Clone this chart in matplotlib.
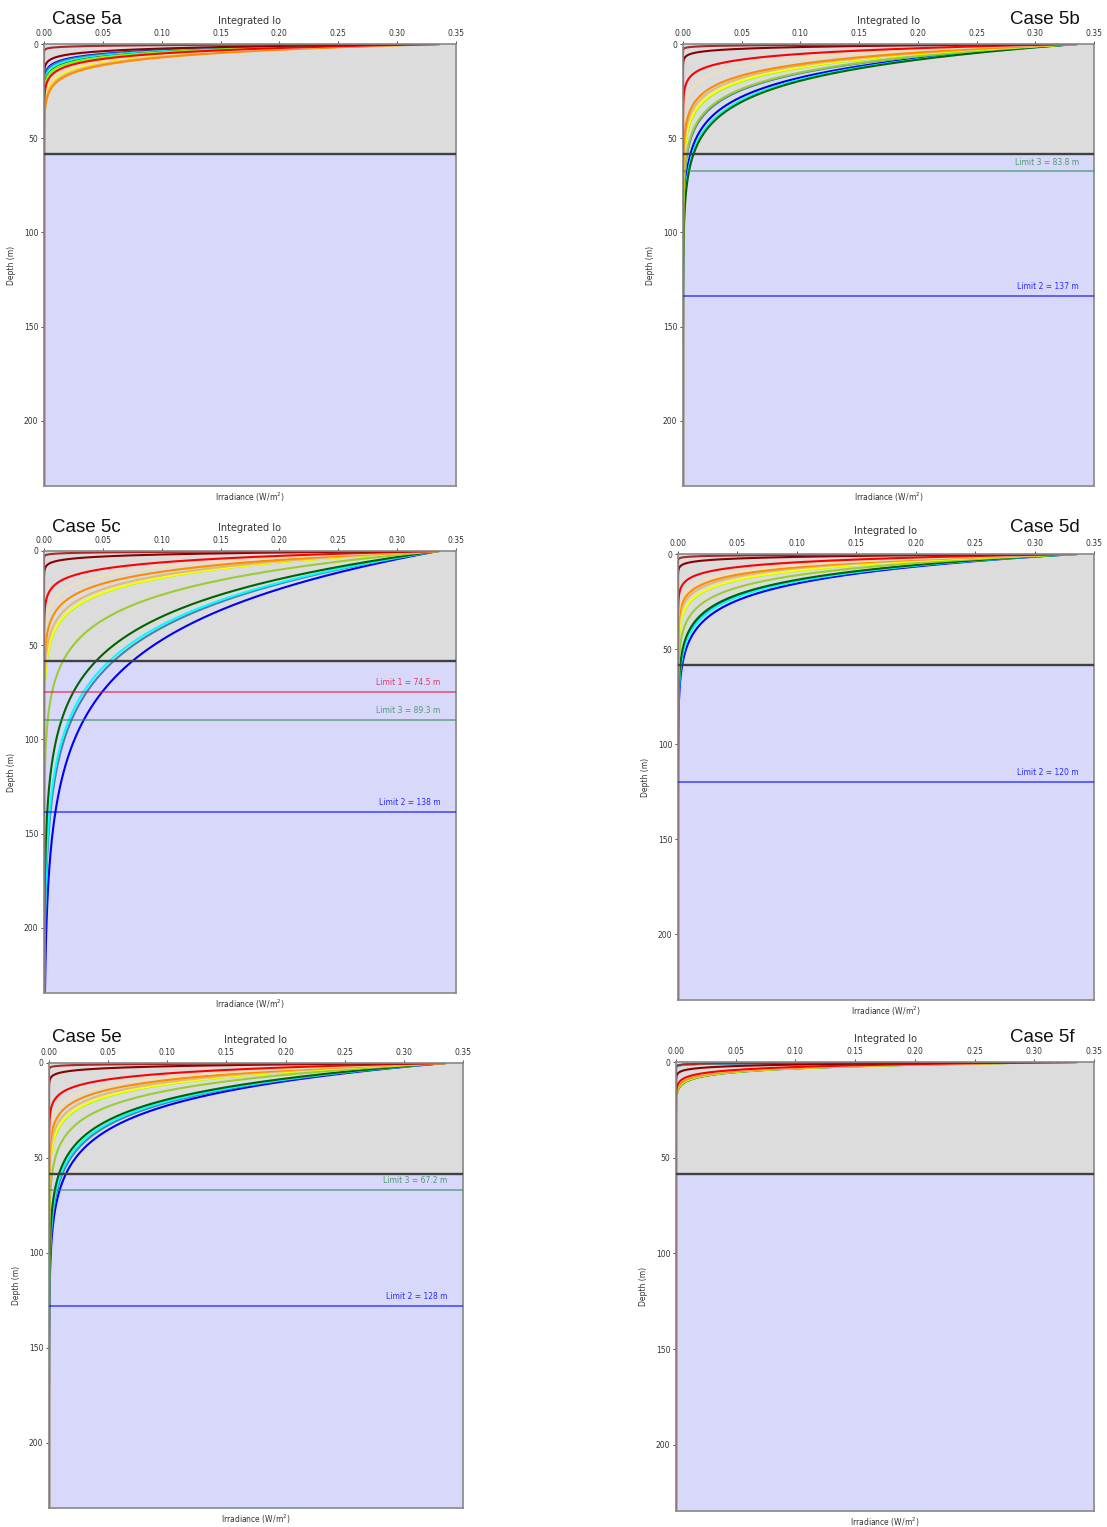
import matplotlib
matplotlib.use("Agg")
import matplotlib.pyplot as plt
import numpy as np

# ── Data ─────────────────────────────────────────────────────────────────────
DEPTH_MAX = 234.5          # bottom of the depth axis (m)
MIXED_DEPTH = 58.3         # grey / lavender boundary (m)
SURFACE_IO = 0.335         # integrated Io at the surface (W/m2)

curve_colors = ["brown", "darkred", "red", "wheat", "darkorange", "burlywood",
                "yellow", "lawngreen", "yellowgreen", "darkgreen", "cyan",
                "steelblue", "blue"]

# attenuation coefficient (1/m) of each coloured profile, per case
kd_5a = [2.0, 0.50, 0.24, 0.22, 0.17, 0.18, 0.19, 0.27, 0.27, 0.28, 0.31, 0.34, 0.36]
kd_5b = [2.5, 0.75, 0.23, 0.16, 0.114, 0.106, 0.098, 0.096, 0.080, 0.062, 0.064, 0.078, 0.068]
kd_5c = [2.5, 0.65, 0.20, 0.143, 0.11, 0.094, 0.086, 0.085, 0.052, 0.0347, 0.0308, 0.0297, 0.0256]
kd_5d = [2.5, 0.80, 0.277, 0.20, 0.175, 0.16, 0.14, 0.138, 0.108, 0.089, 0.084, 0.086, 0.078]
kd_5e = [2.5, 0.70, 0.22, 0.16, 0.135, 0.12, 0.11, 0.108, 0.083, 0.063, 0.060, 0.058, 0.054]
kd_5f = [3.0, 0.90, 0.46, 0.44, 0.40, 0.39, 0.38, 0.37, 0.37, 0.36, 2.6, 2.7, 2.8]

case_names = ["Case 5a", "Case 5b", "Case 5c", "Case 5d", "Case 5e", "Case 5f"]
case_kd = [kd_5a, kd_5b, kd_5c, kd_5d, kd_5e, kd_5f]

# limit lines: drawn depth, label text, colour
limits_5a = []
limits_5b = [(67.5, "Limit 3 = 83.8 m", "seagreen"), (133.7, "Limit 2 = 137 m", "blue")]
limits_5c = [(74.8, "Limit 1 = 74.5 m", "crimson"), (89.5, "Limit 3 = 89.3 m", "seagreen"),
             (138.4, "Limit 2 = 138 m", "blue")]
limits_5d = [(119.8, "Limit 2 = 120 m", "blue")]
limits_5e = [(67.0, "Limit 3 = 67.2 m", "seagreen"), (127.8, "Limit 2 = 128 m", "blue")]
limits_5f = []
case_limits = [limits_5a, limits_5b, limits_5c, limits_5d, limits_5e, limits_5f]

x_ticks = [0.00, 0.05, 0.10, 0.15, 0.20, 0.25, 0.30, 0.35]
y_ticks = [0, 50, 100, 150, 200]

# ── Layout (pixel boxes of each panel: left, top, right, bottom) ─────────────
W, H = 1107, 1527
BOXES = [(44, 44, 456, 486), (683, 44, 1094, 486),
         (44, 551, 456, 993), (678, 554, 1094, 1000),
         (49, 1063, 463, 1508), (676, 1062, 1094, 1511)]
TITLE_POS = [(52, 19, "left"), (1080, 19, "right"),
             (52, 528, "left"), (1080, 528, "right"),
             (52, 1038, "left"), (1075, 1038, "right")]

GREY = "#dcdcdc"
LAVENDER = "#d8d8fa"
TXT = "#333333"

fig = plt.figure(figsize=(W / 100, H / 100), dpi=100)
z = np.linspace(0, DEPTH_MAX, 3000)

for (l, t, r, b), name, kds, lims, (tx, ty, tha) in zip(
        BOXES, case_names, case_kd, case_limits, TITLE_POS):
    ax = fig.add_axes([l / W, 1 - b / H, (r - l) / W, (b - t) / H])
    ax.set_xlim(0, 0.35)
    ax.set_ylim(DEPTH_MAX, 0)

    ax.axhspan(0, MIXED_DEPTH, color=GREY, zorder=0, lw=0)
    ax.axhspan(MIXED_DEPTH, DEPTH_MAX, color=LAVENDER, zorder=0, lw=0)

    # blue end first so the warm profiles sit on top
    for col, k in list(zip(curve_colors, kds))[::-1]:
        ax.plot(SURFACE_IO * np.exp(-k * z), z, color=col, lw=1.5, zorder=2)

    ax.axhline(MIXED_DEPTH, color="#404040", lw=1.7, zorder=3)

    for d, lbl, col in lims:
        ax.axhline(d, color=col, lw=1.3, alpha=0.6, zorder=3)
        ax.text(0.337, d - 2.5, lbl, color=col, fontsize=5.5, ha="right",
                va="bottom", alpha=0.8, zorder=4)

    ax.xaxis.tick_top()
    ax.xaxis.set_label_position("top")
    ax.set_xticks(x_ticks)
    ax.set_xticklabels([f"{v:.2f}" for v in x_ticks])
    ax.set_yticks(y_ticks)
    ax.tick_params(labelsize=5.5, length=2.5, width=0.6, pad=1.5,
                   colors=TXT)
    ax.set_xlabel("Integrated Io", fontsize=7, color=TXT, labelpad=4)
    ax.set_ylabel("Depth (m)", fontsize=5.5, color=TXT, labelpad=6)
    ax.text(0.5, -0.01, "Irradiance (W/m$^2$)", transform=ax.transAxes,
            ha="center", va="top", fontsize=5.5, color=TXT)
    for s in ax.spines.values():
        s.set_color("#888888")
        s.set_linewidth(1.2)

    fig.text(tx / W, 1 - ty / H, name, ha=tha, va="center", fontsize=13.5,
             family="Liberation Sans", color="#111111")

fig.savefig("out.png", dpi=100, facecolor="white")
plt.close(fig)
